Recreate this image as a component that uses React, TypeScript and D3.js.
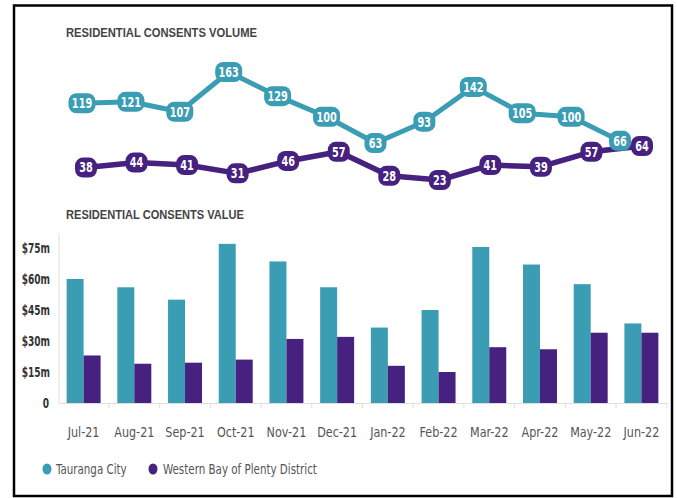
import React from "react";
import * as d3 from "d3";

const months = ["Jul-21","Aug-21","Sep-21","Oct-21","Nov-21","Dec-21","Jan-22","Feb-22","Mar-22","Apr-22","May-22","Jun-22"];
const volTauranga = [119,121,107,163,129,100,63,93,142,105,100,66];
const volWestern = [38,44,41,31,46,57,28,23,41,39,57,64];
const valTauranga = [60,56,50,77,68.5,56,36.5,45,75.5,67,57.5,38.5];
const valWestern = [23,19,19.5,21,31,32,18,15,27,26,34,34];
const valTicks = [0,15,30,45,60,75];
const seriesNames = ["Tauranga City","Western Bay of Plenty District"];

const TEAL = "#3a9db3";
const PURPLE = "#46217f";
const FONT = "'DejaVu Sans Condensed', 'DejaVu Sans', sans-serif";

function NText(props: { x: number; y: number; sx: number; anchor?: string; size: number; weight?: string; fill: string; children: React.ReactNode }) {
  const { x, y, sx, anchor, size, weight, fill, children } = props;
  return (
    <text transform={`translate(${x},${y}) scale(${sx},1)`} textAnchor={anchor || "start"} fontSize={size} fontWeight={weight || "normal"} fill={fill} fontFamily={FONT}>{children}</text>
  );
}

export default function App() {
  const W = 677, H = 498;
  // line chart scales
  const xT = d3.scalePoint<string>().domain(months).range([82, 620]);
  const xW = d3.scalePoint<string>().domain(months).range([86, 642]);
  const yT = d3.scaleLinear().domain([63, 163]).range([143, 72]);
  const yW = d3.scaleLinear().domain([23, 64]).range([180, 146]);
  const lineT = d3.line<number>().x((_, i) => xT(months[i])!).y(d => yT(d));
  const lineW = d3.line<number>().x((_, i) => xW(months[i])!).y(d => yW(d));

  // bar chart scales
  const xB = d3.scaleBand<string>().domain(months).range([58, 667]).paddingInner(0.33).paddingOuter(0.17);
  const xSub = d3.scaleBand<string>().domain(["T", "W"]).range([0, xB.bandwidth()]);
  const yB = d3.scaleLinear().domain([0, 75]).range([403, 248]);

  const pill = (x: number, y: number, v: number, color: string, key: string) => {
    const w = String(v).length >= 3 ? 27 : 22;
    return (
      <g key={key}>
        <rect x={x - w / 2} y={y - 10} width={w} height={20} rx={8} fill={color} />
        <NText x={x} y={y + 4.8} sx={0.8} anchor="middle" size={13.5} weight="bold" fill="#fff">{v}</NText>
      </g>
    );
  };

  return (
    <svg width={W} height={H} style={{ position: "absolute", left: 0, top: 0, background: "#fff" }}>
      <rect x={14} y={5.5} width={658} height={490.5} fill="#fff" stroke="#000" strokeWidth={2.5} />

      <text x={66} y={37} fontSize={12} fontWeight="bold" fill="#444" fontFamily="'Liberation Sans', sans-serif" textLength={191} lengthAdjust="spacingAndGlyphs">RESIDENTIAL CONSENTS VOLUME</text>

      <path d={lineT(volTauranga)!} fill="none" stroke={TEAL} strokeWidth={5} strokeLinejoin="round" />
      <path d={lineW(volWestern)!} fill="none" stroke={PURPLE} strokeWidth={5.5} strokeLinejoin="round" />
      {volTauranga.map((v, i) => pill(xT(months[i])!, yT(v), v, TEAL, "t" + i))}
      {volWestern.map((v, i) => pill(xW(months[i])!, yW(v), v, PURPLE, "w" + i))}

      <text x={66} y={219} fontSize={12} fontWeight="bold" fill="#444" fontFamily="'Liberation Sans', sans-serif" textLength={178} lengthAdjust="spacingAndGlyphs">RESIDENTIAL CONSENTS VALUE</text>

      {/* axes */}
      <line x1={59} x2={59} y1={234} y2={403} stroke="#ddd" strokeWidth={1} />
      <line x1={59} x2={667} y1={403.5} y2={403.5} stroke="#ddd" strokeWidth={1} />
      {months.map((m, i) => {
        const x = (xB(m)! - xB.step() * xB.paddingInner() / 2);
        return <line key={"tk" + i} x1={x + xB.step()} x2={x + xB.step()} y1={403} y2={408} stroke="#ddd" />;
      })}
      {valTicks.map(t => (
        <NText key={"yt" + t} x={t === 0 ? 49 : 50} y={yB(t) + 5} sx={0.72} anchor="end" size={14} weight="bold" fill="#333">{t === 0 ? "0" : `$${t}m`}</NText>
      ))}

      {months.map((m, i) => (
        <g key={"b" + i}>
          <rect x={xB(m)! + xSub("T")!} y={yB(valTauranga[i])} width={xSub.bandwidth()} height={yB(0) - yB(valTauranga[i])} fill={TEAL} />
          <rect x={xB(m)! + xSub("W")!} y={yB(valWestern[i])} width={xSub.bandwidth()} height={yB(0) - yB(valWestern[i])} fill={PURPLE} />
          <NText x={xB(m)! + xB.bandwidth() / 2} y={437} sx={0.92} anchor="middle" size={13.5} fill="#555">{m}</NText>
        </g>
      ))}

      {/* legend */}
      <ellipse cx={47} cy={469} rx={4.5} ry={5.5} fill={TEAL} />
      <NText x={56} y={474} sx={0.85} size={13.5} fill="#555">{seriesNames[0]}</NText>
      <ellipse cx={153} cy={469} rx={4.5} ry={5.5} fill={PURPLE} />
      <NText x={163} y={474} sx={0.85} size={13.5} fill="#555">{seriesNames[1]}</NText>
    </svg>
  );
}
